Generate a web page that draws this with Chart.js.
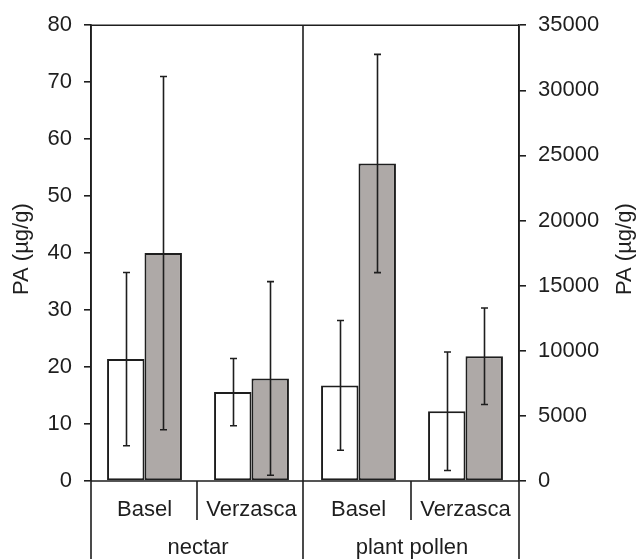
<!DOCTYPE html>
<html><head><meta charset="utf-8">
<script src="https://cdn.jsdelivr.net/npm/chart.js@4.4.0/dist/chart.umd.min.js"></script>
<style>html,body{margin:0;padding:0;background:#fff;overflow:hidden}#wrap{width:637px;height:559px;position:relative}</style>
</head><body><div id="wrap"><canvas id="c"></canvas></div>
<script>
// ---- data ----
const categories = ['Basel', 'Verzasca', 'Basel', 'Verzasca'];
const groupLabels = ['nectar', 'plant pollen'];
const leftAxisTitle = 'PA (µg/g)';
const rightAxisTitle = 'PA (µg/g)';
const nectarWhite = [21.4, 15.6];
const nectarWhiteErr = [15.2, 5.9];
const nectarGray = [40.0, 18.0];
const nectarGrayErr = [31.0, 17.0];
const pollenWhite = [7340, 5360];
const pollenWhiteErr = [4980, 4550];
const pollenGray = [24380, 9580];
const pollenGrayErr = [8380, 3710];
const leftTickRange = [0, 80, 10];
const rightTickRange = [0, 35000, 5000];

const INK = '#1e1e1e';
const FONT = '"Liberation Sans", Arial, sans-serif';
const FS = 22;

function dsFor(label, vals, errs, first, fill, axis) {
  const d = first ? [vals[0], vals[1], null, null] : [null, null, vals[0], vals[1]];
  const e = first ? [errs[0], errs[1], null, null] : [null, null, errs[0], errs[1]];
  return { label, data: d, errors: e, yAxisID: axis, backgroundColor: fill,
    borderColor: INK, borderWidth: 2, borderSkipped: false,
    categoryPercentage: 0.70, barPercentage: 1.0, skipNull: true };
}

const datasets = [
  dsFor('nectar white', nectarWhite, nectarWhiteErr, true, '#ffffff', 'y'),
  dsFor('nectar gray', nectarGray, nectarGrayErr, true, '#aea9a7', 'y'),
  dsFor('pollen white', pollenWhite, pollenWhiteErr, false, '#ffffff', 'y1'),
  dsFor('pollen gray', pollenGray, pollenGrayErr, false, '#aea9a7', 'y1')
];

const errorBars = {
  id: 'errorBars',
  afterDatasetsDraw(chart) {
    const ctx = chart.ctx;
    ctx.save();
    ctx.strokeStyle = INK; ctx.lineWidth = 1.6;
    chart.data.datasets.forEach((ds, i) => {
      const meta = chart.getDatasetMeta(i);
      const sc = chart.scales[ds.yAxisID];
      meta.data.forEach((el, j) => {
        const v = ds.data[j], e = ds.errors[j];
        if (v == null || e == null) return;
        const x = Math.round(el.x) + 0.5;
        const yt = sc.getPixelForValue(v + e), yb = sc.getPixelForValue(Math.max(v - e, sc.min));
        ctx.beginPath();
        ctx.moveTo(x, yt); ctx.lineTo(x, yb);
        ctx.moveTo(x - 3.5, yt); ctx.lineTo(x + 3.5, yt);
        ctx.moveTo(x - 3.5, yb); ctx.lineTo(x + 3.5, yb);
        ctx.stroke();
      });
    });
    ctx.restore();
  }
};

const frame = {
  id: 'frame',
  afterDraw(chart) {
    const ctx = chart.ctx, a = chart.chartArea, xs = chart.scales.x;
    const H = chart.height;
    const b = k => (xs.getPixelForValue(k) + xs.getPixelForValue(k + 1)) / 2;
    ctx.save();
    ctx.strokeStyle = INK; ctx.lineWidth = 1.6;
    ctx.beginPath();
    ctx.moveTo(a.left, a.top); ctx.lineTo(a.right, a.top);
    ctx.moveTo(a.left, a.bottom); ctx.lineTo(a.right, a.bottom);
    ctx.moveTo(a.left, a.top); ctx.lineTo(a.left, H);
    ctx.moveTo(a.right, a.top); ctx.lineTo(a.right, H);
    ctx.moveTo(b(1) - 2, a.top); ctx.lineTo(b(1) - 2, H);
    ctx.moveTo(b(0) - 1, a.bottom); ctx.lineTo(b(0) - 1, a.bottom + 39);
    ctx.moveTo(b(2) - 1, a.bottom); ctx.lineTo(b(2) - 1, a.bottom + 39);
    ctx.stroke();
    ctx.fillStyle = INK;
    ctx.font = FS + 'px ' + FONT;
    ctx.textAlign = 'center'; ctx.textBaseline = 'middle';
    ctx.fillText(groupLabels[0], (xs.getPixelForValue(0) + xs.getPixelForValue(1)) / 2, a.bottom + 67);
    ctx.fillText(groupLabels[1], (xs.getPixelForValue(2) + xs.getPixelForValue(3)) / 2, a.bottom + 67);
    const cy = (a.top + a.bottom) / 2 - 4;
    ctx.save(); ctx.translate(22, cy); ctx.rotate(-Math.PI / 2); ctx.fillText(leftAxisTitle, 0, 0); ctx.restore();
    ctx.save(); ctx.translate(625, cy); ctx.rotate(-Math.PI / 2); ctx.fillText(rightAxisTitle, 0, 0); ctx.restore();
    ctx.restore();
  }
};

Chart.defaults.font.family = FONT;
Chart.defaults.font.size = FS;
Chart.defaults.color = INK;

new Chart(document.getElementById('c'), {
  type: 'bar',
  data: { labels: categories, datasets },
  options: {
    responsive: true, maintainAspectRatio: false, animation: false,
    layout: { padding: { top: 25, left: 0, right: 0, bottom: 0 } },
    plugins: { legend: { display: false }, tooltip: { enabled: false } },
    scales: {
      x: {
        grid: { display: false }, border: { display: false },
        ticks: { padding: 8, font: { size: FS } },
        afterFit(s) { s.height = 78; }
      },
      y: {
        position: 'left', min: leftTickRange[0], max: leftTickRange[1],
        ticks: { stepSize: leftTickRange[2], padding: 12 },
        grid: { drawOnChartArea: false, tickLength: 7, color: INK, lineWidth: 1.6 },
        border: { display: true, color: INK, width: 1.6 },
        afterFit(s) { s.width = 91; }
      },
      y1: {
        position: 'right', min: rightTickRange[0], max: rightTickRange[1],
        ticks: { stepSize: rightTickRange[2], padding: 12, callback: v => String(v) },
        grid: { drawOnChartArea: false, tickLength: 7, color: INK, lineWidth: 1.6 },
        border: { display: true, color: INK, width: 1.6 },
        afterFit(s) { s.width = 118; }
      }
    }
  },
  plugins: [errorBars, frame]
});
</script></body></html>
